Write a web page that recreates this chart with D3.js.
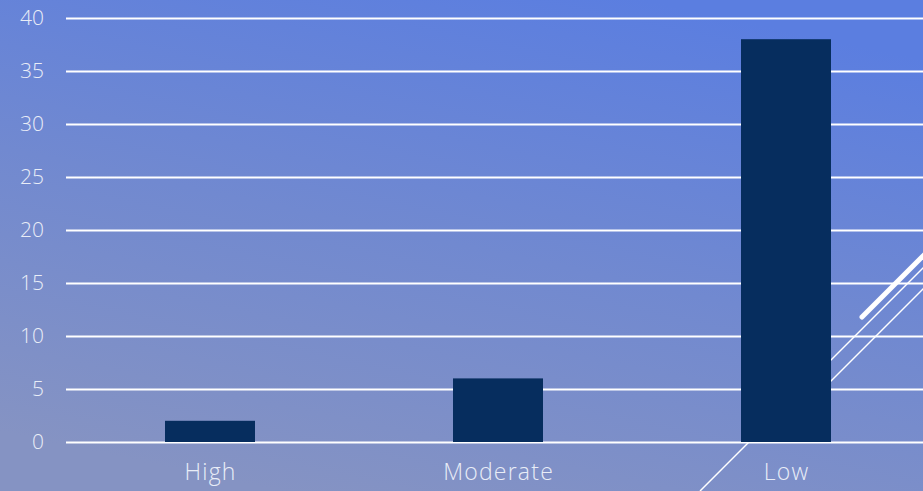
<!DOCTYPE html>
<html>
<head>
<meta charset="utf-8">
<script src="https://cdn.jsdelivr.net/npm/d3@7"></script>
<style>
  html, body { margin: 0; padding: 0; overflow: hidden; }
  svg { display: block; }
</style>
</head>
<body>
<svg id="chart" width="923" height="491"></svg>
<script>
// Risk level counts
const categories = ["High", "Moderate", "Low"];
const counts = [2, 6, 38];
const yTicks = [0, 5, 10, 15, 20, 25, 30, 35, 40];

const W = 923, H = 491;
const svg = d3.select("#chart");

// Background gradient
const defs = svg.append("defs");
const grad = defs.append("linearGradient")
  .attr("id", "bg").attr("x1", "0.3").attr("y1", "1").attr("x2", "0.7").attr("y2", "0");
grad.append("stop").attr("offset", "0").attr("stop-color", "#8593c3");
grad.append("stop").attr("offset", "0.5").attr("stop-color", "#7189d0");
grad.append("stop").attr("offset", "1").attr("stop-color", "#5b7ee0");
svg.append("rect").attr("width", W).attr("height", H).attr("fill", "url(#bg)");

const plotLeft = 66, plotRight = 930;
const x = d3.scaleBand().domain(categories).range([plotLeft, plotRight]).paddingInner(0.6875).paddingOuter(0.34375);
const y = d3.scaleLinear().domain([0, 40]).range([442, 18]);

const font = "'Open Sans', Lato, sans-serif";
const textColor = "#e9edf7";

// Decorative diagonal strokes
const deco = svg.append("g").attr("stroke", "#ffffff").attr("fill", "none");
deco.append("line").attr("x1", 700).attr("y1", 491).attr("x2", 935).attr("y2", 256).attr("stroke-width", 1.5);
deco.append("line").attr("x1", 770).attr("y1", 442).attr("x2", 935).attr("y2", 277).attr("stroke-width", 1.5);
deco.append("line").attr("x1", 862).attr("y1", 317).attr("x2", 935).attr("y2", 244)
  .attr("stroke-width", 5).attr("stroke-linecap", "round");

// Gridlines and y labels
const yAxis = d3.axisLeft(y).tickValues(yTicks).tickSize(-(W - plotLeft)).tickPadding(22);
const gy = svg.append("g").attr("transform", `translate(${plotLeft},0)`).call(yAxis);
gy.select(".domain").remove();
gy.selectAll(".tick line").attr("stroke", "#ffffff").attr("stroke-width", 2);
gy.selectAll(".tick text")
  .attr("fill", textColor).attr("font-family", font).attr("font-size", 21)
  .attr("font-weight", 300);

// Bars
svg.append("g").selectAll("rect")
  .data(categories)
  .join("rect")
  .attr("x", d => x(d))
  .attr("width", x.bandwidth())
  .attr("y", (d, i) => y(counts[i]))
  .attr("height", (d, i) => y(0) - y(counts[i]))
  .attr("fill", "#062d5e");

// Category labels
const xAxis = d3.axisBottom(x).tickSize(0).tickPadding(22);
const gx = svg.append("g").attr("transform", `translate(0,${y(0)})`).call(xAxis);
gx.select(".domain").remove();
gx.selectAll(".tick text")
  .attr("fill", textColor).attr("font-family", font).attr("font-size", 23)
  .attr("font-weight", 300).attr("letter-spacing", 1.2).attr("dx", 0.6);
</script>
</body>
</html>
